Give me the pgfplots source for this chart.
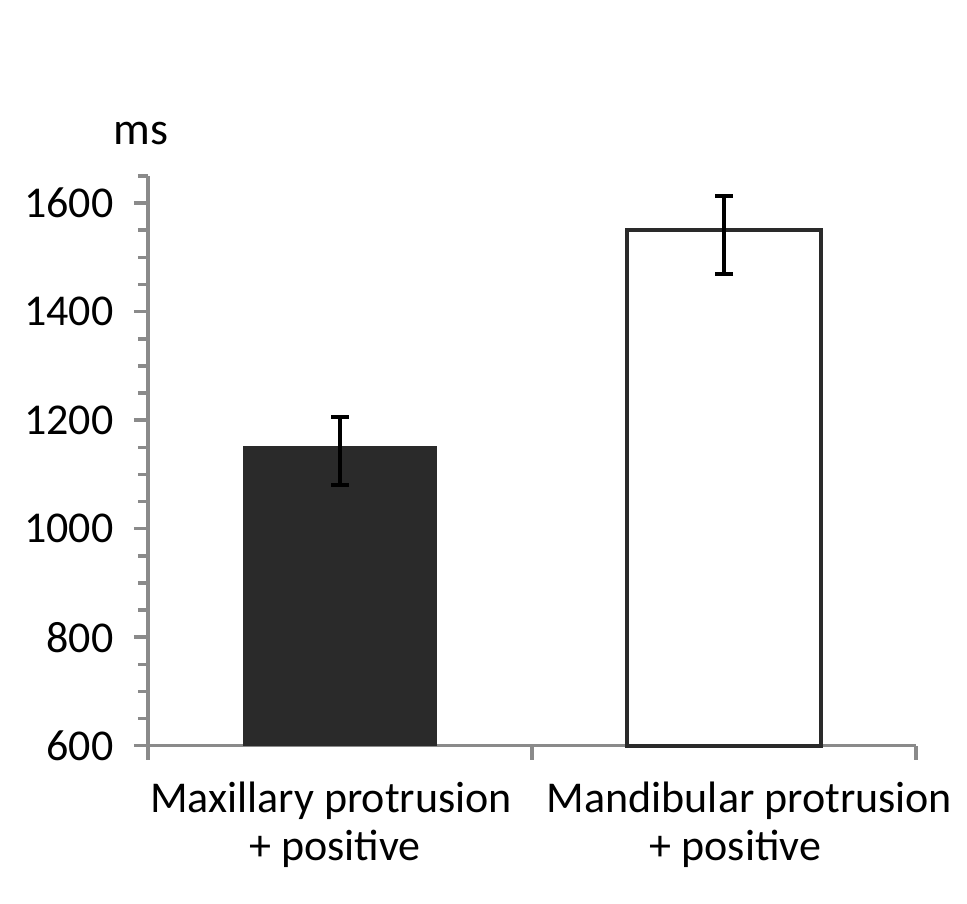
\documentclass[border=0pt]{standalone}
\usepackage{fontspec}
\setmainfont{Carlito}
\usepackage{pgfplots}
\pgfplotsset{compat=1.18}
\definecolor{axgray}{HTML}{8A8A8A}
\definecolor{bardark}{HTML}{2A2A2A}
\begin{document}
\begin{tikzpicture}[x=1pt,y=1pt]
\path[use as bounding box] (0,0) rectangle (967,904);
\begin{axis}[
  at={(148pt,158.3pt)}, anchor=south west,
  width=768pt, height=569.7pt, scale only axis,
  xmin=-0.5, xmax=1.5, ymin=600, ymax=1650,
  axis lines*=left,
  axis line style={axgray, line width=3.5pt},
  every tick/.style={axgray, line width=3.5pt},
  tick align=outside,
  major tick length=14pt, minor tick length=10pt,
  ytick={600,800,...,1800}, minor y tick num=3,
  xtick={-0.5,0.5,1.5}, xticklabels={},
  extra x ticks={0,1},
  extra x tick labels={{\hspace*{-18pt}Maxillary protrusion\\\hspace*{-10pt}+ positive}, {\hspace*{51pt}Mandibular protrusion\\\hspace*{23pt}+ positive}},
  extra x tick style={major tick length=0pt, tick label style={align=center, yshift=-33pt}},
  /pgf/number format/assume math mode=true,
  /pgf/number format/1000 sep={},
  tick label style={font=\fontsize{44}{47.5}\selectfont, black},
  yticklabel style={xshift=-17pt},
  clip=false,
]
\addplot[ybar, bar width=0.503, fill=bardark, draw=bardark, line width=1pt,
  error bars/.cd, y dir=both, y explicit,
  error bar style={line width=4pt, black},
  error mark options={rotate=90, mark size=9pt, line width=4pt, black}]
  coordinates {(0,1152) += (0,53) -= (0,72)};
\addplot[ybar, bar width=0.503, fill=white, draw=bardark, line width=4pt,
  error bars/.cd, y dir=both, y explicit,
  error bar style={line width=4pt, black},
  error mark options={rotate=90, mark size=9pt, line width=4pt, black}]
  coordinates {(1,1550) += (0,63) -= (0,80)};
\node[anchor=base, font=\fontsize{46}{48}\selectfont] at (rel axis cs:0,1) [xshift=-7pt, yshift=31pt] {ms};
\end{axis}
\end{tikzpicture}
\end{document}
